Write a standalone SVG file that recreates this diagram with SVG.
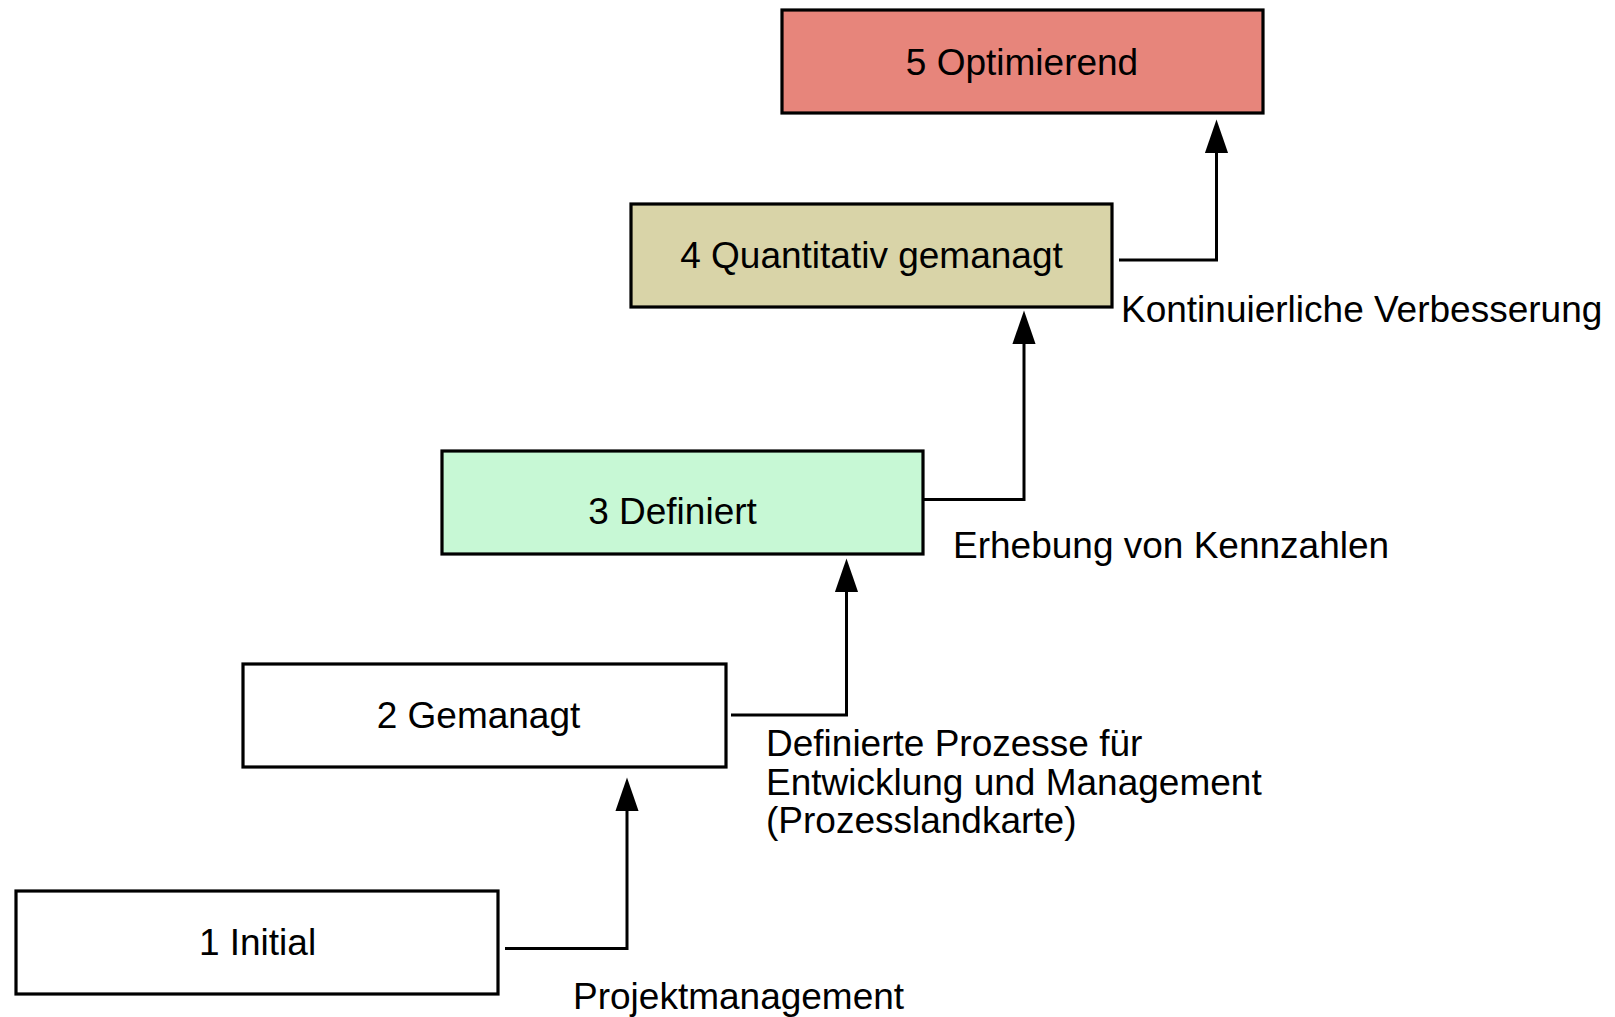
<svg xmlns="http://www.w3.org/2000/svg" width="1615" height="1017" viewBox="0 0 1615 1017">
<style>
.box{stroke:#000;stroke-width:3.2}
.lbl{font-family:"Liberation Sans",Arial,sans-serif;font-size:37px;fill:#000}
.mid{text-anchor:middle}
.conn{fill:none;stroke:#000;stroke-width:3;stroke-linejoin:miter}
</style>
<defs>
<marker id="arr" markerUnits="userSpaceOnUse" markerWidth="34" markerHeight="24" viewBox="0 0 32 22" refX="22" refY="11" orient="auto">
<path d="M0,0 L32,11 L0,22 z" fill="#000"/>
</marker>
</defs>
<rect width="1615" height="1017" fill="#fff"/>
<g id="n5"><rect class="box" x="782" y="10" width="481" height="103" fill="#e7857b"/><text class="lbl mid" x="1022" y="75">5 Optimierend</text></g>
<g id="n4"><rect class="box" x="631" y="204" width="481" height="103" fill="#d9d4a8"/><text class="lbl mid" x="871.5" y="268">4 Quantitativ gemanagt</text></g>
<g id="n3"><rect class="box" x="442" y="451" width="481" height="103" fill="#c7f8d5"/><text class="lbl mid" x="672.5" y="524">3 Definiert</text></g>
<g id="n2"><rect class="box" x="243" y="664" width="483" height="103" fill="#fff"/><text class="lbl mid" x="478.5" y="728">2 Gemanagt</text></g>
<g id="n1"><rect class="box" x="16" y="891" width="482" height="103" fill="#fff"/><text class="lbl mid" x="257.5" y="955">1 Initial</text></g>
<g id="connectors">
<path class="conn" d="M505,948.5 H627 V788" marker-end="url(#arr)"/>
<path class="conn" d="M731,715 H846.5 V569" marker-end="url(#arr)"/>
<path class="conn" d="M923,499.5 H1024 V321" marker-end="url(#arr)"/>
<path class="conn" d="M1119,260 H1216.5 V130" marker-end="url(#arr)"/>
</g>
<g id="labels">
<text class="lbl" x="573" y="1009">Projektmanagement</text>
<text class="lbl" x="766" y="756">Definierte Prozesse für</text>
<text class="lbl" x="766" y="794.5">Entwicklung und Management</text>
<text class="lbl" x="766" y="833">(Prozesslandkarte)</text>
<text class="lbl" x="953" y="558">Erhebung von Kennzahlen</text>
<text class="lbl" x="1121" y="322">Kontinuierliche Verbesserung</text>
</g>
</svg>
